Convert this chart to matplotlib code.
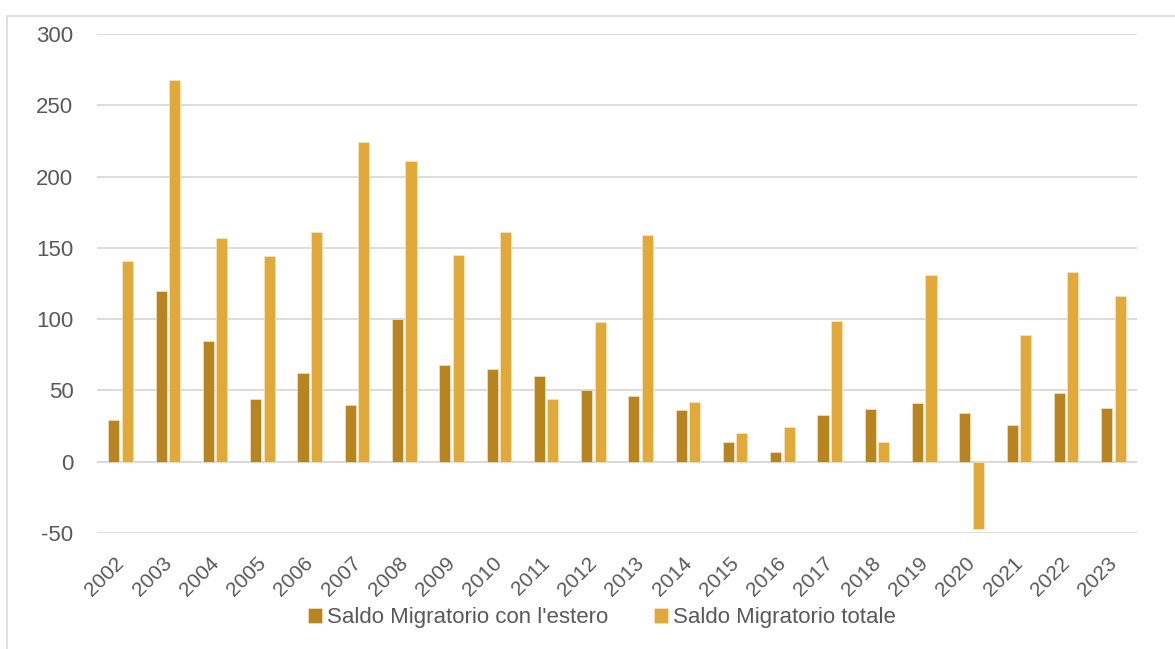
import numpy as np
import matplotlib as mpl
from matplotlib import pyplot as plt
from matplotlib.patches import Rectangle
from matplotlib.transforms import ScaledTranslation

# dati
anni = [str(a) for a in range(2002, 2024)]
saldo_estero = [29, 120, 85, 44, 62, 40, 100, 68, 65, 60, 50,
                46, 36, 14, 7, 33, 37, 41, 34, 26, 48, 38]
saldo_totale = [141, 268, 157, 144, 161, 224, 211, 145, 161, 44, 98,
                159, 42, 20, 24, 99, 14, 131, -47, 89, 133, 116]
nomi_serie = ["Saldo Migratorio con l'estero", "Saldo Migratorio totale"]

col_scuro = '#B8841F'
col_chiaro = '#E1A93A'
col_testo = '#595959'
col_griglia = '#D9D9D9'

plt.rcParams['font.family'] = ['Liberation Sans', 'DejaVu Sans']
plt.rcParams['axes.unicode_minus'] = False

fig = plt.figure(figsize=(11.75, 6.49), dpi=100)
fig.patch.set_facecolor('white')

# bordo dell'area del grafico
fig.add_artist(Rectangle((7 / 1175, -0.1), 1.2, 1 - 16 / 649 + 0.1,
                         transform=fig.transFigure, fill=False,
                         edgecolor=col_griglia, linewidth=1.2))

ax = fig.add_axes([97 / 1175, 1 - 533 / 649, 1040 / 1175, 499 / 649])

x = np.arange(len(anni))
w = 0.235
off = 0.142
ax.bar(x - off, saldo_estero, width=w, color=col_scuro, edgecolor='#F3E3C3',
       linewidth=0.5, label=nomi_serie[0], zorder=3)
ax.bar(x + off, saldo_totale, width=w, color=col_chiaro, edgecolor='#F6E6C6',
       linewidth=0.5, label=nomi_serie[1], zorder=3)

ax.set_xlim(-0.5, len(anni) - 0.5)
ax.set_ylim(-50, 300)
ax.set_yticks(range(-50, 301, 50))
ax.yaxis.grid(True, color=col_griglia, linewidth=1.3, zorder=0)
ax.set_axisbelow(True)
for s in ax.spines.values():
    s.set_visible(False)
ax.axhline(0, color=col_griglia, linewidth=1.3, zorder=2)

ax.set_xticks(x)
ax.set_xticklabels(anni, rotation=45, ha='right', rotation_mode='anchor')
ax.tick_params(axis='y', length=0, labelsize=16, colors=col_testo, pad=17)
ax.tick_params(axis='x', length=0, labelsize=15, colors=col_testo, pad=15)
sposta = ScaledTranslation(-6 / 100, 0, fig.dpi_scale_trans)
for lab in ax.get_xticklabels():
    lab.set_transform(lab.get_transform() + sposta)

leg = ax.legend(loc='center', bbox_to_anchor=(602 / 1175, 1 - 618 / 649),
                bbox_transform=fig.transFigure, ncol=2, frameon=False,
                fontsize=16, handlelength=0.63, handleheight=0.63,
                handletextpad=0.22, columnspacing=2.07)
for t in leg.get_texts():
    t.set_color(col_testo)

plt.savefig('out.png', dpi=100)
